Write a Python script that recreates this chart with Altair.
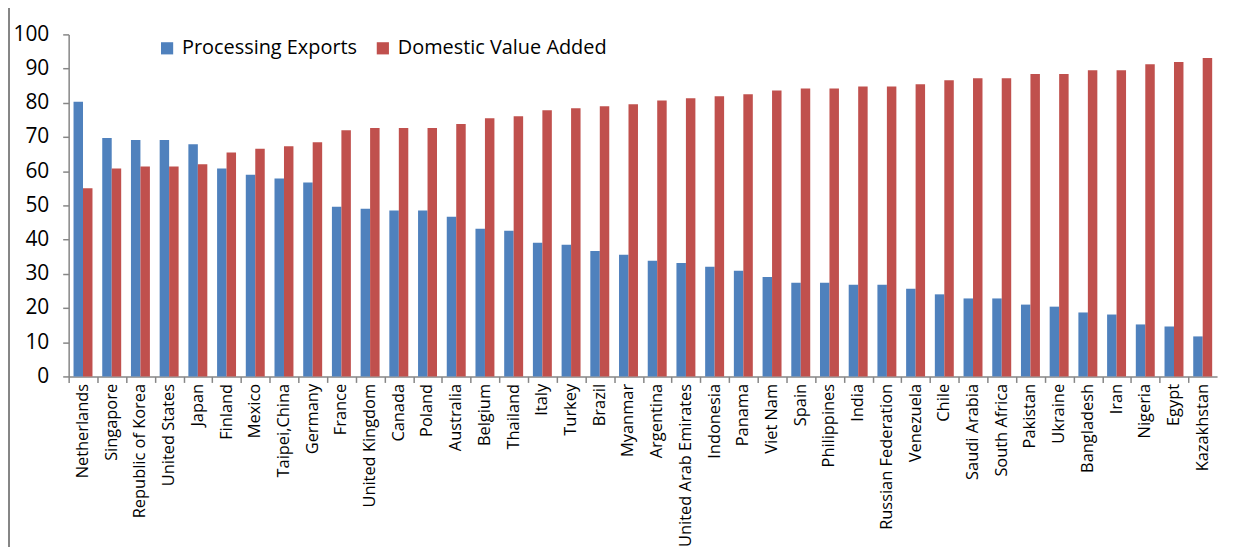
import altair as alt
import pandas as pd

countries = ["Netherlands", "Singapore", "Republic of Korea", "United States", "Japan", "Finland",
             "Mexico", "Taipei,China", "Germany", "France", "United Kingdom", "Canada", "Poland",
             "Australia", "Belgium", "Thailand", "Italy", "Turkey", "Brazil", "Myanmar", "Argentina",
             "United Arab Emirates", "Indonesia", "Panama", "Viet Nam", "Spain", "Philippines", "India",
             "Russian Federation", "Venezuela", "Chile", "Saudi Arabia", "South Africa", "Pakistan",
             "Ukraine", "Bangladesh", "Iran", "Nigeria", "Egypt", "Kazakhstan"]
processing = [80.3, 69.7, 69.1, 69.1, 67.9, 60.8, 59.0, 57.9, 56.7, 49.6, 49.0, 48.5, 48.5,
              46.7, 43.2, 42.6, 39.1, 38.5, 36.7, 35.6, 33.8, 33.2, 32.1, 30.9, 29.1, 27.4, 27.4, 26.8,
              26.8, 25.6, 24.0, 22.8, 22.8, 21.0, 20.4, 18.7, 18.1, 15.2, 14.6, 11.7]
domestic = [55.0, 60.8, 61.4, 61.4, 62.0, 65.5, 66.6, 67.3, 68.5, 72.0, 72.6, 72.6, 72.6,
            73.8, 75.5, 76.1, 77.8, 78.4, 79.0, 79.6, 80.7, 81.3, 81.9, 82.5, 83.6, 84.2, 84.2, 84.8,
            84.8, 85.4, 86.6, 87.2, 87.2, 88.4, 88.4, 89.5, 89.5, 91.3, 91.9, 93.1]
y_ticks = [0, 10, 20, 30, 40, 50, 60, 70, 80, 90, 100]
series = ["Processing Exports", "Domestic Value Added"]
colors = ["#4F81BD", "#C0504D"]

rows = []
for c, p, d in zip(countries, processing, domestic):
    rows.append({"country": c, "series": series[0], "value": p})
    rows.append({"country": c, "series": series[1], "value": d})
df = pd.DataFrame(rows)

W, H = 1155, 344
step = W / len(countries)
FONT = "Open Sans"

xscale = alt.Scale(domain=countries, paddingInner=0.34, paddingOuter=0.17)
yscale = alt.Scale(domain=[0, 100], nice=False)


def y_axis():
    return alt.Axis(title=None, values=y_ticks, grid=False,
                    labelFontSize=21, labelFont=FONT, labelColor="#000000",
                    domainColor="#868686", tickColor="#868686", tickSize=6,
                    labelPadding=14, domainWidth=1.5, tickWidth=1.5,
                    labelOverlap=False)


bars = alt.Chart(df).mark_bar().encode(
    x=alt.X("country:N", scale=xscale, sort=countries,
            axis=alt.Axis(title=None, labelAngle=-90, labelFontSize=16.5, labelFont=FONT,
                          labelColor="#000000", ticks=False, domain=False, labelPadding=7,
                          labelBaseline="middle", labelAlign="right", orient="bottom",
                          labelLimit=300, labelOverlap=False)),
    xOffset=alt.XOffset("series:N", sort=series, scale=alt.Scale(domain=series)),
    y=alt.Y("value:Q", scale=yscale, axis=y_axis()),
    color=alt.Color("series:N", sort=series, scale=alt.Scale(domain=series, range=colors),
                    legend=alt.Legend(title=None, orient="none", direction="horizontal",
                                      legendX=89, legendY=4, symbolType="square",
                                      symbolSize=150, symbolStrokeWidth=0, labelFontSize=20,
                                      labelFont=FONT, labelColor="#000000", columnPadding=15,
                                      labelOffset=5, labelLimit=400)),
)

ticks_layer = alt.Chart(df).mark_bar(opacity=0).encode(
    x=alt.X("country:N", scale=xscale, sort=countries,
            axis=alt.Axis(title=None, labels=False, tickOffset=-step / 2, tickSize=6,
                          tickColor="#868686", domainColor="#868686", orient="bottom",
                          domainWidth=1.5, tickWidth=1.5)),
    y=alt.Y("value:Q", scale=yscale, axis=y_axis()),
)

border = alt.Chart(df).mark_rule(color="#868686", strokeWidth=1.5).encode(
    x=alt.value(-60), y=alt.value(-33), y2=alt.value(H + 180)
)

chart = alt.layer(bars, ticks_layer, border).resolve_axis(x="independent").properties(
    width=W, height=H,
    autosize=alt.AutoSizeParams(type="none"),
    padding={"left": 61, "top": 25, "right": 10, "bottom": 170},
).configure_view(stroke=None)

chart.save("out.html", embed_options={"renderer": "svg", "actions": False})
